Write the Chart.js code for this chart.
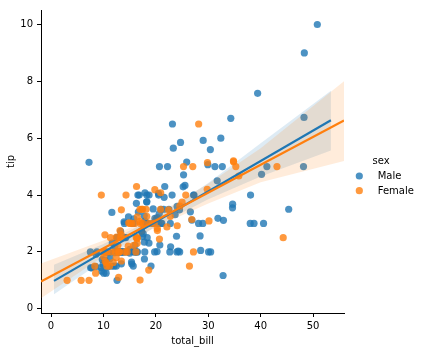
<!DOCTYPE html>
<html><head><meta charset="utf-8">
<script src="https://cdn.jsdelivr.net/npm/chart.js@4.4.0/dist/chart.umd.min.js"></script>
<style>html,body{margin:0;padding:0;background:#fff;}#wrap{width:421px;height:352px;position:relative;}</style>
</head><body><div id="wrap"><canvas id="c" width="421" height="352"></canvas></div>
<script>
// ---- data (tips: total_bill vs tip) ----
const maleBill=[10.34,21.01,23.68,25.29,8.77,26.88,15.04,14.78,10.27,15.42,18.43,21.58,16.29,20.65,17.92,39.42,19.82,17.81,13.37,12.69,21.7,9.55,18.35,17.78,24.06,16.31,18.69,31.27,16.04,17.46,13.94,9.68,30.4,18.29,22.23,32.4,28.55,18.04,12.54,9.94,25.56,19.49,38.01,11.24,48.27,20.29,13.81,11.02,18.29,17.59,20.08,20.23,15.01,12.02,10.51,17.92,27.2,22.76,17.29,19.44,16.66,32.68,15.98,13.03,18.28,24.71,21.16,28.97,22.49,40.17,27.28,12.03,21.01,12.46,15.36,20.49,25.21,18.24,14.0,38.07,23.95,29.93,11.69,14.26,15.95,8.52,22.82,19.08,16.0,34.3,41.19,9.78,7.51,14.07,13.13,17.26,24.55,19.77,48.17,16.49,21.5,12.66,13.81,24.52,20.76,31.71,50.81,15.81,7.25,31.85,16.82,32.9,17.89,14.48,34.63,34.65,23.33,45.35,23.17,40.55,20.69,30.46,23.1,15.69,28.44,15.48,16.58,7.56,10.34,13.51,18.71,20.53,26.59,38.73,24.27,30.06,25.89,48.33,28.15,11.59,7.74,12.16,8.58,13.42,20.45,13.28,24.01,15.69,11.61,10.77,15.53,10.07,12.6,32.83,29.03,22.67,17.82];
const maleTip=[1.66,3.5,3.31,4.71,2.0,3.12,1.96,3.23,1.71,1.57,3.0,3.92,3.71,3.35,4.08,7.58,3.18,2.34,2.0,2.0,4.3,1.45,2.5,3.27,3.6,2.0,2.31,5.0,2.24,2.54,3.06,1.32,5.6,3.0,5.0,6.0,2.05,3.0,2.5,1.56,4.34,3.51,3.0,1.76,6.73,3.21,2.0,1.98,3.76,2.64,3.15,2.01,2.09,1.97,1.25,3.08,4.0,3.0,2.71,3.0,3.4,5.0,2.03,2.0,4.0,5.85,3.0,3.0,3.5,4.73,4.0,1.5,3.0,1.5,1.64,4.06,4.29,3.76,3.0,4.0,2.55,5.07,2.31,2.5,2.0,1.48,2.18,1.5,2.0,6.7,5.0,1.73,2.0,2.5,2.0,2.74,2.0,2.0,5.0,2.0,3.5,2.5,2.0,3.48,2.24,4.5,10.0,3.16,5.15,3.18,4.0,3.11,2.0,2.0,3.55,3.68,5.65,3.5,6.5,3.0,5.0,2.0,4.0,1.5,2.56,2.02,4.0,1.44,2.0,2.0,4.0,4.0,3.41,3.0,2.03,2.0,5.16,9.0,3.0,1.5,1.44,2.2,1.92,1.58,3.0,2.72,2.0,3.0,3.39,1.47,3.0,1.25,1.0,1.17,5.92,2.0,1.75];
const femaleBill=[16.99,24.59,35.26,14.83,10.33,16.97,20.29,15.77,19.65,15.06,20.69,16.93,10.29,34.81,26.41,16.45,3.07,17.07,26.86,25.28,14.73,10.07,34.83,5.75,16.32,22.75,11.35,15.38,44.3,22.42,20.92,14.31,7.25,25.71,17.31,10.65,12.43,24.08,13.42,12.48,29.8,14.52,11.38,20.27,11.17,12.26,18.26,8.51,10.33,14.15,13.16,17.47,27.05,16.43,8.35,18.64,11.87,29.85,25.0,13.39,16.21,17.51,10.59,10.63,9.6,20.9,18.15,19.81,43.11,13.0,12.74,13.0,16.4,16.47,12.76,13.27,28.17,12.9,30.14,13.42,15.98,16.27,10.09,22.12,35.83,27.18,18.78];
const femaleTip=[1.01,3.61,5.0,3.02,1.67,3.5,2.75,2.23,3.0,3.0,2.45,3.07,2.6,5.2,1.5,2.47,1.0,3.0,3.14,5.0,2.2,1.83,5.17,1.0,4.3,3.25,2.5,3.0,2.5,3.48,4.08,4.0,1.0,4.0,3.5,1.5,1.8,2.92,1.68,2.52,4.2,2.0,2.0,2.83,1.5,2.0,3.25,1.25,2.0,2.0,2.75,3.5,5.0,2.3,1.5,1.36,1.63,5.14,3.75,2.61,2.0,3.0,1.61,2.0,4.0,3.5,3.5,4.19,5.0,2.0,2.01,2.0,2.5,3.23,2.23,2.5,6.5,1.1,3.09,3.48,3.0,2.5,2.0,2.88,4.67,2.0,3.0];
// regression fits and confidence bands
const maleFitX=[0.57,53.4];
const maleFitY=[0.98,6.63];
const maleBandX=[0.57,10,20,30,40,53.4];
const maleBandUpper=[1.55,2.28,3.22,4.42,5.82,7.67];
const maleBandLower=[0.51,1.70,2.90,3.85,4.65,5.57];
const femaleFitX=[-1.91,55.9];
const femaleFitY=[0.96,6.62];
const femaleBandX=[-1.91,10,20,30,40,55.9];
const femaleBandUpper=[1.59,2.40,3.30,4.40,5.65,8.0];
const femaleBandLower=[0.37,1.85,2.88,3.70,4.45,5.2];
const xTicks=[0,10,20,30,40,50];
const yTicks=[0,2,4,6,8,10];
const seriesNames=['Male','Female'];
const legendTitle='sex';
const xTitle='total_bill';
const yTitle='tip';

const BLUE='31,119,180', ORANGE='255,127,14';
const FONT='"DejaVu Sans", sans-serif';
const pts=(xs,ys)=>xs.map((x,i)=>({x:x,y:ys[i]}));

const textPlugin={
  id:'texts',
  afterDraw(chart){
    const ctx=chart.ctx, a=chart.chartArea;
    ctx.save();
    ctx.fillStyle='#000';
    ctx.font='10px '+FONT;
    ctx.textAlign='center';
    ctx.textBaseline='alphabetic';
    ctx.fillText(xTitle,(a.left+a.right)/2,343.5);
    ctx.save();
    ctx.translate(14,(a.top+a.bottom)/2);
    ctx.rotate(-Math.PI/2);
    ctx.fillText(yTitle,0,0);
    ctx.restore();
    // legend
    ctx.fillText(legendTitle,381,164.3);
    ctx.textAlign='left';
    const cols=[BLUE,ORANGE], ys=[176,190.7], bases=[179.3,194];
    for(let i=0;i<2;i++){
      ctx.fillStyle='rgba('+cols[i]+',0.8)';
      ctx.beginPath();ctx.arc(359.3,ys[i],3.6,0,Math.PI*2);ctx.fill();
      ctx.fillStyle='#000';
      ctx.fillText(seriesNames[i],377.7,bases[i]);
    }
    ctx.restore();
  }
};

new Chart(document.getElementById('c'),{
  type:'scatter',
  data:{datasets:[
    {label:'Female fit',data:pts(femaleFitX,femaleFitY),showLine:true,borderColor:'rgb('+ORANGE+')',borderWidth:2.2,pointRadius:0,fill:false,order:0},
    {label:'Male fit',data:pts(maleFitX,maleFitY),showLine:true,borderColor:'rgb('+BLUE+')',borderWidth:2.2,pointRadius:0,fill:false,order:1},
    {label:'Female ci upper',data:pts(femaleBandX,femaleBandUpper),showLine:true,borderWidth:0,borderColor:'rgba(0,0,0,0)',pointRadius:0,fill:'+1',backgroundColor:'rgba('+ORANGE+',0.15)',order:2},
    {label:'Female ci lower',data:pts(femaleBandX,femaleBandLower),showLine:true,borderWidth:0,borderColor:'rgba(0,0,0,0)',pointRadius:0,fill:false,order:2},
    {label:'Female',data:pts(femaleBill,femaleTip),backgroundColor:'rgba('+ORANGE+',0.8)',borderWidth:0,pointRadius:3.6,order:3},
    {label:'Male ci upper',data:pts(maleBandX,maleBandUpper),showLine:true,borderWidth:0,borderColor:'rgba(0,0,0,0)',pointRadius:0,fill:'+1',backgroundColor:'rgba('+BLUE+',0.15)',order:4},
    {label:'Male ci lower',data:pts(maleBandX,maleBandLower),showLine:true,borderWidth:0,borderColor:'rgba(0,0,0,0)',pointRadius:0,fill:false,order:4},
    {label:'Male',data:pts(maleBill,maleTip),backgroundColor:'rgba('+BLUE+',0.8)',borderWidth:0,pointRadius:3.6,order:5}
  ]},
  options:{
    responsive:false,animation:false,devicePixelRatio:1,
    layout:{padding:{top:6,right:77,bottom:0,left:0}},
    plugins:{legend:{display:false},tooltip:{enabled:false}},
    elements:{point:{hoverRadius:0}},
    scales:{
      x:{type:'linear',min:-1.91,max:55.9,
        afterBuildTicks(s){s.ticks=xTicks.map(v=>({value:v}));},
        afterFit(s){s.height=39;},
        grid:{display:true,drawOnChartArea:false,drawTicks:true,tickLength:4,color:'#000',tickColor:'#000',lineWidth:1},
        border:{display:true,color:'#000',width:1},
        ticks:{color:'#000',font:{family:FONT,size:10},padding:3,maxRotation:0,callback:v=>String(v)}
      },
      y:{type:'linear',min:-0.15,max:10.51,
        afterBuildTicks(s){s.ticks=yTicks.map(v=>({value:v}));},
        afterFit(s){s.width=41;},
        grid:{display:true,drawOnChartArea:false,drawTicks:true,tickLength:4,color:'#000',tickColor:'#000',lineWidth:1},
        border:{display:true,color:'#000',width:1},
        ticks:{color:'#000',font:{family:FONT,size:10},padding:4,callback:v=>String(v)}
      }
    }
  },
  plugins:[textPlugin]
});
</script></body></html>
